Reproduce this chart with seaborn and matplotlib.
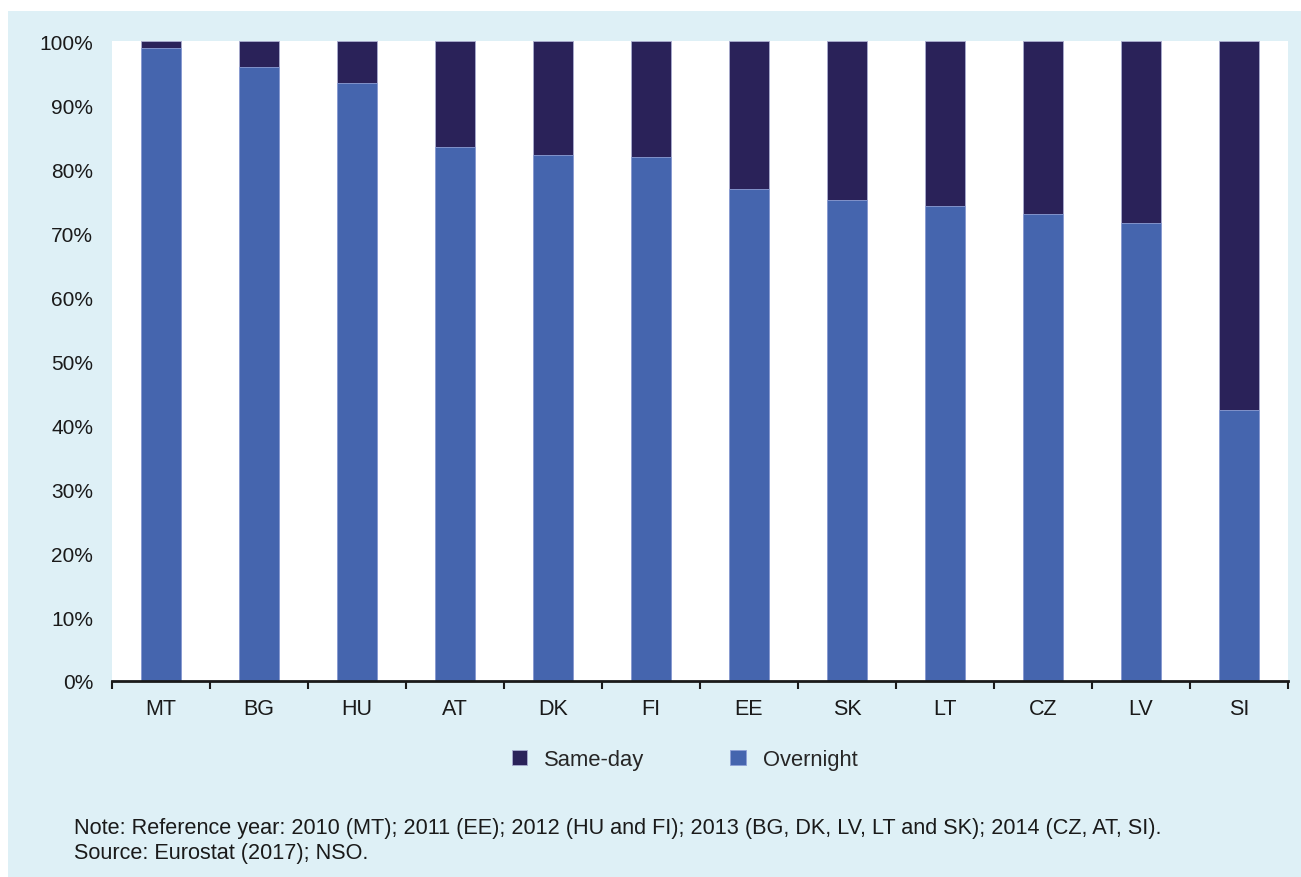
import numpy as np
import pandas as pd
import seaborn as sns
import matplotlib.pyplot as plt
from matplotlib.patches import Rectangle
from matplotlib.ticker import FixedLocator, PercentFormatter

countries = ["MT", "BG", "HU", "AT", "DK", "FI", "EE", "SK", "LT", "CZ", "LV", "SI"]
overnight = [98.9, 95.9, 93.4, 83.4, 82.2, 81.8, 76.8, 75.1, 74.2, 72.9, 71.5, 42.4]
same_day = [100 - v for v in overnight]

c_over = "#4565ae"
c_same = "#2a2259"
bg = "#def0f6"

df = pd.DataFrame({"country": countries, "overnight": overnight, "same_day": same_day})
df["total"] = df["overnight"] + df["same_day"]

sns.set_theme(style="white")
plt.rcParams["font.family"] = ["Liberation Sans", "DejaVu Sans"]

fig = plt.figure(figsize=(13.01, 8.78), dpi=100)
fig.patch.set_facecolor("white")
fig.add_artist(Rectangle((8 / 1301, 0), 1 - 8 / 1301, (878 - 12) / 878,
                         transform=fig.transFigure, facecolor=bg, edgecolor="none", zorder=0))

ax = fig.add_axes([112 / 1301, 1 - 682 / 878, (1288 - 112) / 1301, (682 - 42) / 878])
ax.set_facecolor("white")

# stacked: draw total (same-day colour) first, then overnight on top
sns.barplot(data=df, x="country", y="total", color=c_same, width=0.4, saturation=1,
            edgecolor="#a9acd0", linewidth=0.6, ax=ax, label="Same-day")
sns.barplot(data=df, x="country", y="overnight", color=c_over, width=0.4, saturation=1,
            edgecolor="#8ea0d6", linewidth=0.6, ax=ax, label="Overnight")

ax.set_xlim(-0.5, len(countries) - 0.5)
ax.set_ylim(0, 100)
ax.set_xlabel("")
ax.set_ylabel("")
ax.yaxis.set_major_locator(FixedLocator(np.arange(0, 101, 10)))
ax.yaxis.set_major_formatter(PercentFormatter(decimals=0))
ax.tick_params(axis="y", length=0, labelsize=15, pad=13.5, labelcolor="#1a1a1a")
ax.tick_params(axis="x", which="major", length=0, labelsize=15.5, pad=12, labelcolor="#1a1a1a")
ax.xaxis.set_minor_locator(FixedLocator(np.arange(-0.5, len(countries), 1)))
ax.tick_params(axis="x", which="minor", bottom=True, length=6, width=1.5,
               color="#1a1a1a", direction="out")

for s in ["top", "right", "left"]:
    ax.spines[s].set_visible(False)
ax.spines["bottom"].set_color("#1a1a1a")
ax.spines["bottom"].set_linewidth(2)

ax.legend(loc="center", bbox_to_anchor=(0.487, -0.123), ncol=2, frameon=False,
          fontsize=15.8, handlelength=0.7, handleheight=0.7, columnspacing=3.9, handletextpad=0.8)

fig.text(74 / 1301, 1 - 829 / 878, "Note: Reference year: 2010 (MT); 2011 (EE); 2012 (HU and FI); "
         "2013 (BG, DK, LV, LT and SK); 2014 (CZ, AT, SI).", fontsize=15.6, color="#1a1a1a", va="center")
fig.text(74 / 1301, 1 - 854 / 878, "Source: Eurostat (2017); NSO.", fontsize=15.6,
         color="#1a1a1a", va="center")

fig.savefig("out.png", dpi=100, facecolor=fig.get_facecolor())
